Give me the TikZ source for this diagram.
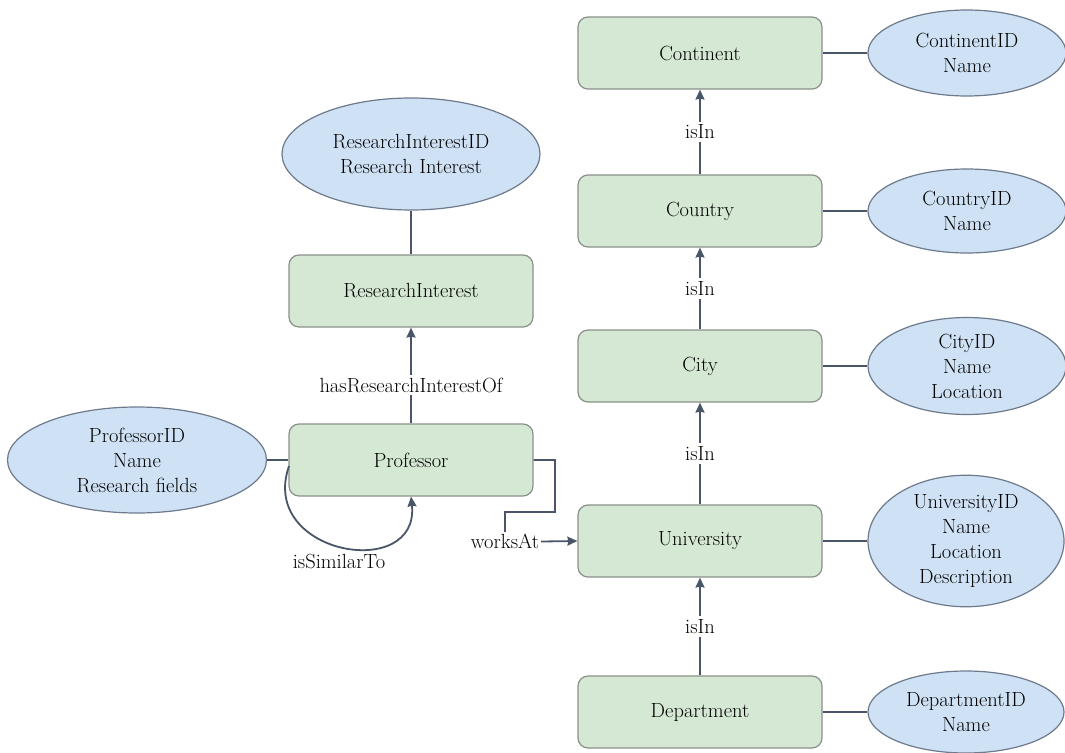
\documentclass[tikz,border=0pt]{standalone}
\usetikzlibrary{shapes.geometric,arrows.meta}
\definecolor{boxfill}{HTML}{D5E8D4}
\definecolor{boxdraw}{HTML}{8A9189}
\definecolor{ellfill}{HTML}{CFE1F4}
\definecolor{elldraw}{HTML}{6C7A8C}
\definecolor{linec}{HTML}{4A5568}
\tikzset{
  entity/.style={draw=boxdraw, fill=boxfill, rounded corners=10pt, line width=1.2pt,
    minimum width=244pt, minimum height=72pt, inner sep=0pt,
    font=\fontsize{20.5}{25}\selectfont, text=black},
  attr/.style={draw=elldraw, fill=ellfill, ellipse, line width=1.2pt, inner sep=0pt,
    align=center, font=\fontsize{20.5}{25}\selectfont, text=black},
  conn/.style={draw=linec, line width=1.8pt},
  arr/.style={conn, -{Stealth[length=10pt,width=9pt,inset=1pt]}},
  lab/.style={fill=white, inner sep=3pt, font=\fontsize{20.5}{25}\selectfont, text=black}
}
\begin{document}
\begin{tikzpicture}[x=1pt,y=-1pt]
\useasboundingbox (0,0) rectangle (1065,752);
% entities
\node[entity] (cont) at (700,53) {Continent};
\node[entity] (coun) at (700,211) {Country};
\node[entity] (city) at (700,366) {City};
\node[entity] (univ) at (700,541) {University};
\node[entity] (dept) at (700,712) {Department};
\node[entity] (ri) at (411,291) {ResearchInterest};
\node[entity] (prof) at (411,460) {Professor};
% attributes
\node[attr, minimum width=198pt, minimum height=86pt] (contA) at (967,53) {ContinentID\\Name};
\node[attr, minimum width=198pt, minimum height=84pt] (counA) at (967,211) {CountryID\\Name};
\node[attr, minimum width=198pt, minimum height=97pt] (cityA) at (967,366) {CityID\\Name\\Location};
\node[attr, minimum width=196pt, minimum height=114pt] (univA) at (966,541) {UniversityID\\Name\\Location\\Description};
\node[attr, minimum width=196pt, minimum height=82pt] (deptA) at (966,712) {DepartmentID\\Name};
\node[attr, minimum width=258pt, minimum height=112pt] (riA) at (411,154) {ResearchInterestID\\Research Interest};
\node[attr, minimum width=259pt, minimum height=106pt] (profA) at (137,460) {ProfessorID\\Name\\Research fields};
% attribute links
\draw[conn] (cont.east) -- (contA.west);
\draw[conn] (coun.east) -- (counA.west);
\draw[conn] (city.east) -- (cityA.west);
\draw[conn] (univ.east) -- (univA.west);
\draw[conn] (dept.east) -- (deptA.west);
\draw[conn] (ri.north) -- (riA.south);
\draw[conn] (profA.east) -- (prof.west);
% isIn arrows
\draw[arr] (coun.north) -- node[lab] {isIn} (cont.south);
\draw[arr] (city.north) -- node[lab] {isIn} (coun.south);
\draw[arr] (univ.north) -- node[lab] {isIn} (city.south);
\draw[arr] (dept.north) -- node[lab] {isIn} (univ.south);
% hasResearchInterestOf
\draw[arr] (prof.north) -- node[lab, pos=0.4] {hasResearchInterestOf} (ri.south);
% worksAt
\coordinate (w1) at (555,460);
\coordinate (w2) at (555,512);
\coordinate (w3) at (505,512);
\coordinate (w4) at (505,542);
\draw[arr] (prof.east) -- (w1) -- (w2) -- (w3) -- (w4) -- (univ.west);
\node[lab, inner sep=2pt] (wl) at (505,541) {worksAt};
% isSimilarTo self loop
\coordinate (s0) at (289,466);
\draw[arr] (s0) .. controls (258,555) and (420,582) .. (prof.south);
\node[lab, inner sep=1pt] (sl) at (339,561) {isSimilarTo};
\end{tikzpicture}
\end{document}
